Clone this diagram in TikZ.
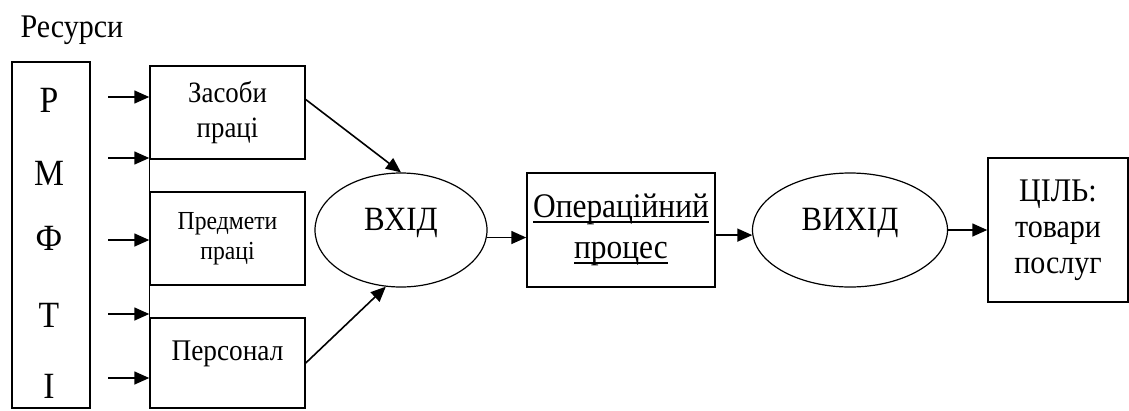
\documentclass[tikz,border=0pt]{standalone}
\usepackage{fontspec}
\setmainfont[FakeStretch=0.91]{Liberation Serif}
\newcommand{\myul}[1]{\leavevmode\setbox0\hbox{#1}\rlap{\rule[-5pt]{\wd0}{1.3pt}}\box0}
\usetikzlibrary{arrows.meta, shapes.geometric}
\tikzset{ box/.style = { rectangle
                       , draw
                       , line width   = 1.5pt
                       , inner sep    = 0pt
                       , align        = center
                       },
          ovl/.style = { ellipse
                       , draw
                       , line width   = 1.2pt
                       , inner sep    = 0pt
                       , text depth   = 22pt
                       , font         = \fontsize{34}{39}\selectfont
                       },
          arr/.style = { -{Triangle[length=15pt, width=13pt]}
                       , line width   = 1.6pt
                       }
        }

\begin{document}
\begin{tikzpicture}[x=1pt, y=-1pt]
\useasboundingbox (0,0) rectangle (1129,410);

\node[anchor=base west, font=\fontsize{33}{36}\selectfont] (rest) at (17,37) {Ресурси};
\node[box, minimum width=78pt, minimum height=346pt] (res) at (51,235) {};
\foreach \l/\y [count=\i] in {Р/112, М/185, Ф/250, Т/327, І/398}
    \node[anchor=base, font=\fontsize{37}{40}\selectfont] (l\i) at (49,\y) {\l};

\node[box, minimum width=155pt, minimum height=93pt
     , font=\fontsize{29.5}{35}\selectfont] (zas) at (227.5,112.5) {Засоби\\праці};
\node[box, minimum width=155pt, minimum height=93pt
     , font=\fontsize{26}{30}\selectfont] (pred) at (227.5,238.5) {Предмети\\праці};
\node[box, minimum width=155pt, minimum height=90pt, text depth=25pt
     , font=\fontsize{30}{33}\selectfont] (pers) at (227.5,363) {Персонал};
\draw[line width=1.5pt] (zas.north west) -- (pers.south west);

\foreach \y [count=\i] in {97, 158, 240, 314, 378} {
    \coordinate (s\i) at (108,\y);
    \draw[arr] (s\i) -- (s\i -| zas.west);
}

\node[ovl, minimum width=172pt, minimum height=114pt] (vhid) at (401,230) {ВХІД};
\node[box, minimum width=188pt, minimum height=114pt
     , font=\fontsize{34.5}{41}\selectfont] (op) at (621,230) {\myul{Операційний}\\\myul{процес}};
\node[ovl, minimum width=195pt, minimum height=114pt] (vyhid) at (850,230) {ВИХІД};
\node[box, minimum width=140pt, minimum height=144pt
     , font=\fontsize{33}{36}\selectfont] (cil) at (1058,230) {ЦІЛЬ:\\товари\\послуг};

\draw[arr] ([yshift=13pt]zas.east) -- (vhid.north);
\draw[arr] (pers.east) -- (vhid.-105);
%\draw[arr] (pred.east) -- (vhid.west);
\draw[arr] (vhid.-5) -- (vhid.-5 -| op.west);
\draw[arr] (vyhid.183 -| op.east) -- (vyhid.183);
\draw[arr] (vyhid.east) -- (cil.west);
\end{tikzpicture}
\end{document}
